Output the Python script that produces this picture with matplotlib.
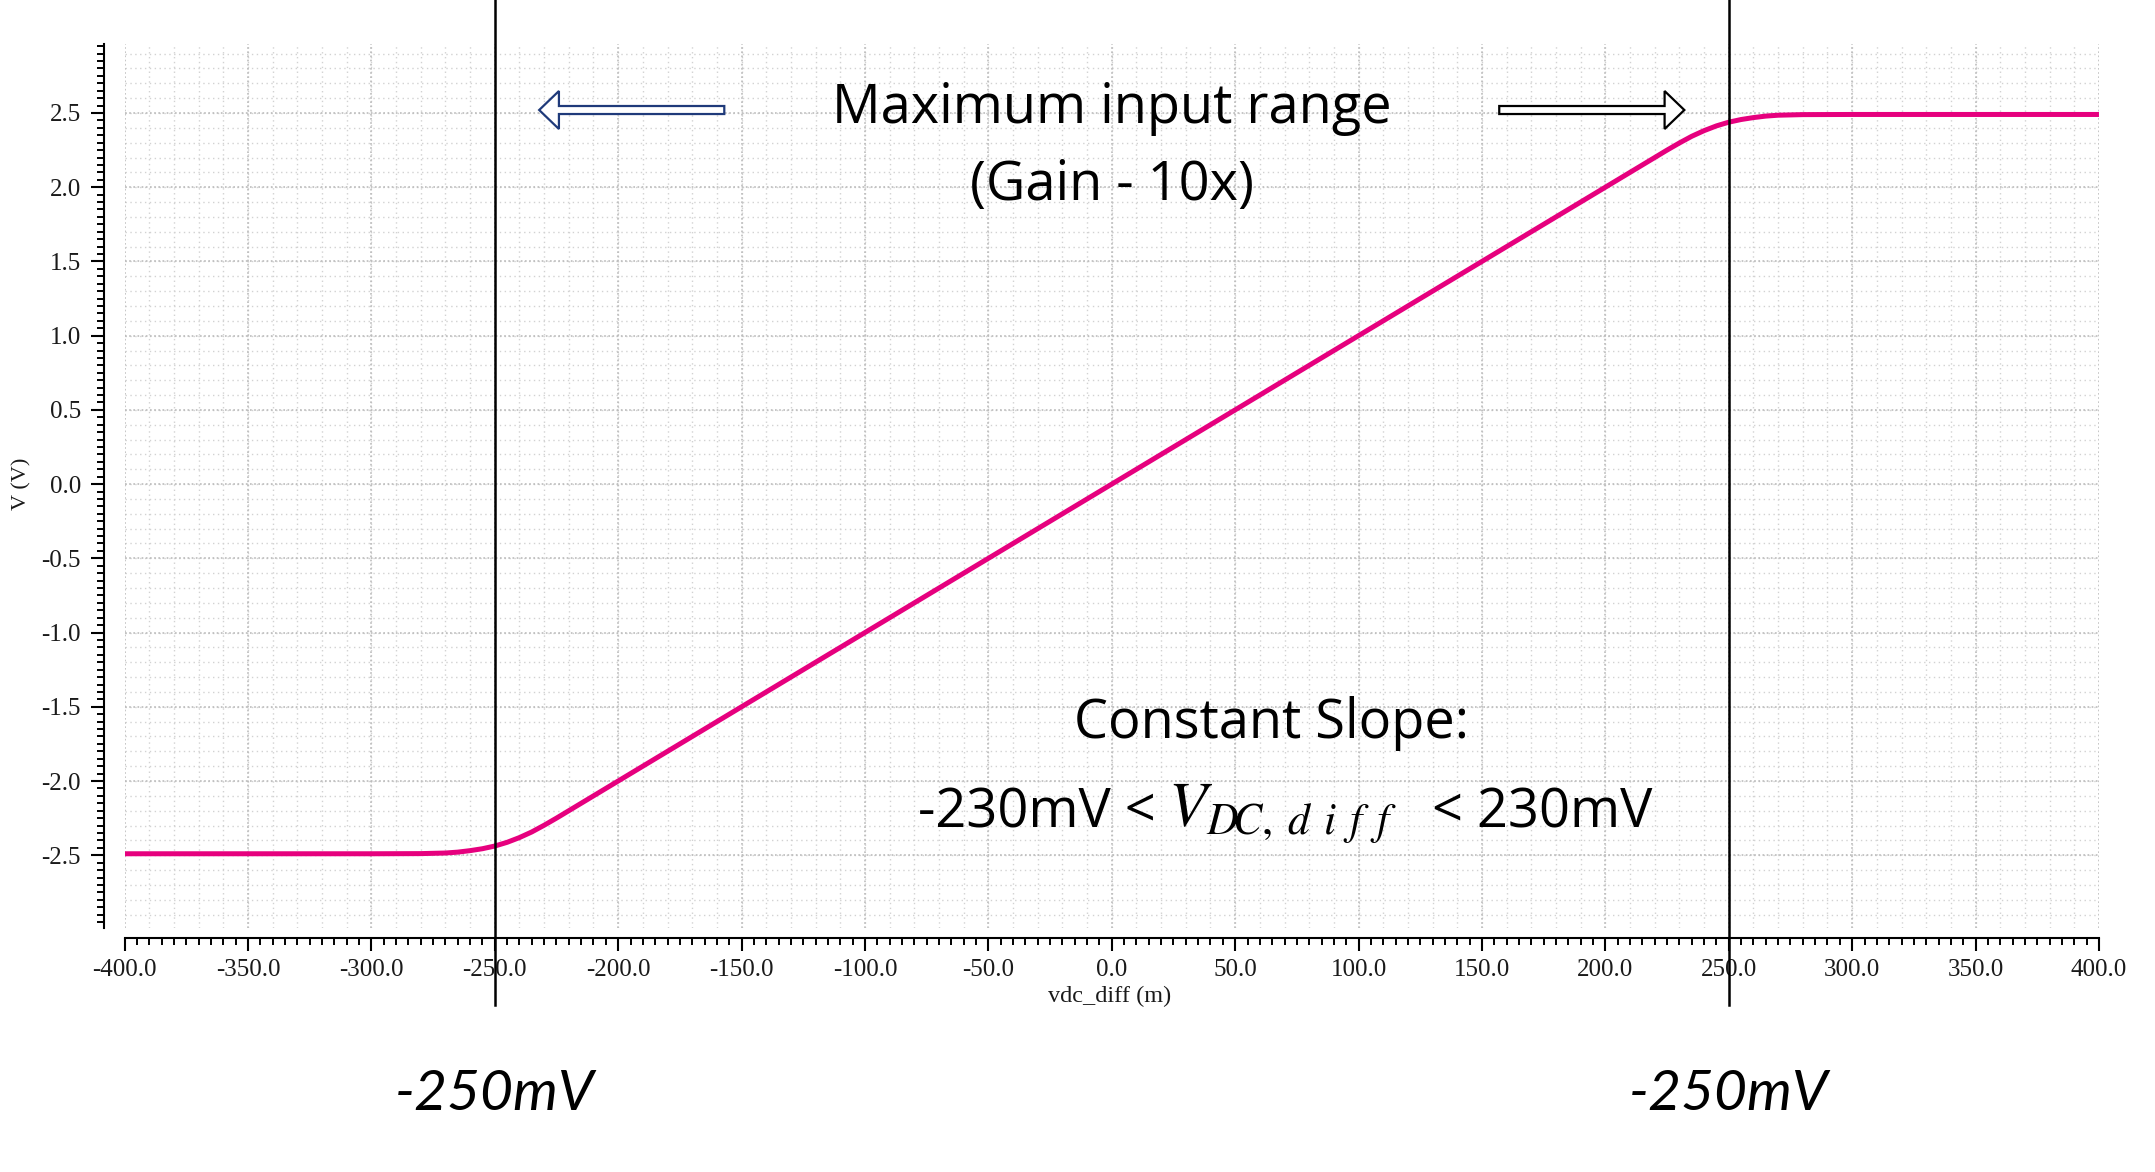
import numpy as np
import matplotlib.pyplot as plt
import matplotlib.patches as mpatches
import matplotlib.transforms as mtransforms
from matplotlib.ticker import MultipleLocator, FormatStrFormatter

plt.rcParams['axes.unicode_minus'] = False

# DC sweep of the differential input (mV) and the output voltage (V)
vdc_mv = [-400, -300, -280, -270, -265, -260, -255, -250, -245, -240, -235,
          -230, -225, -220, 220, 225, 230, 235, 240, 245, 250, 255, 260, 265,
          270, 280, 300, 400]
vout_v = [-2.490, -2.490, -2.489, -2.485, -2.479, -2.469, -2.456, -2.438,
          -2.413, -2.381, -2.343, -2.298, -2.250, -2.200, 2.200, 2.250, 2.298,
          2.343, 2.381, 2.413, 2.438, 2.456, 2.469, 2.479, 2.485, 2.489, 2.490,
          2.490]

limit_mv = [-250, 250]
limit_labels = ['-250mV', '-250mV']
x_ticks = [-400, -350, -300, -250, -200, -150, -100, -50, 0, 50, 100, 150,
           200, 250, 300, 350, 400]
y_ticks = [-2.5, -2.0, -1.5, -1.0, -0.5, 0.0, 0.5, 1.0, 1.5, 2.0, 2.5]

W, H = 2155, 1172
fig = plt.figure(figsize=(W / 100, H / 100), dpi=100)
ax = fig.add_axes([0.0578, 0.2082, 0.9162, 0.7543])

ymin, ymax = -2.99, 2.965
ax.set_xlim(-400, 400)
ax.set_ylim(ymin, ymax)

# dotted background grid
ax.vlines(np.arange(-390, 400, 10), ymin, ymax, colors='#d2d2d2', lw=1.0,
          linestyles=(0, (1, 2.5)), zorder=0)
ax.hlines(np.arange(-2.9, 2.95, 0.1), -400, 400, colors='#d2d2d2', lw=1.0,
          linestyles=(0, (1, 2.5)), zorder=0)
ax.vlines(x_ticks, ymin, ymax, colors='#bcbcbc', lw=1.2,
          linestyles=(0, (1, 1.5)), zorder=0)
ax.hlines(y_ticks, -400, 400, colors='#bcbcbc', lw=1.2,
          linestyles=(0, (1, 1.5)), zorder=0)

ax.plot(vdc_mv, vout_v, color='#e6007e', lw=3.6, solid_capstyle='butt',
        zorder=3)

for x in limit_mv:
    ax.axvline(x, ymin=-0.087, ymax=1.05, color='black', lw=1.8,
               clip_on=False, zorder=4)

# spines / ticks
for s in ['top', 'right']:
    ax.spines[s].set_visible(False)
ax.spines['left'].set_position(('outward', 15))
ax.spines['bottom'].set_position(('outward', 7.2))
ax.spines['left'].set_linewidth(1.5)
ax.spines['bottom'].set_linewidth(1.5)

ax.set_xticks(x_ticks)
ax.set_yticks(y_ticks)
ax.xaxis.set_minor_locator(MultipleLocator(5))
ax.yaxis.set_minor_locator(MultipleLocator(0.05))
ax.xaxis.set_major_formatter(FormatStrFormatter('%.1f'))
ax.yaxis.set_major_formatter(FormatStrFormatter('%.1f'))
ax.tick_params(which='major', length=9.4, width=1.5, direction='out')
ax.tick_params(which='minor', length=5, width=1.4, direction='out')
ax.tick_params(axis='x', which='major', pad=5.5)
ax.tick_params(axis='y', which='major', pad=7)
for lab in ax.get_xticklabels() + ax.get_yticklabels():
    lab.set_family('Liberation Serif')
    lab.set_fontsize(18)
    lab.set_color('#1a1a1a')

fig.text(0.0102, 1 - 484 / H, 'V (V)', rotation=90, ha='center',
         va='center', family='Liberation Serif', fontsize=16, color='#1a1a1a')
fig.text(1110 / W, 1 - 996 / H, 'vdc_diff (m)', ha='center', va='center',
         family='Liberation Serif', fontsize=17.5, color='#1a1a1a')

# annotations (baseline positions in pixels from the top)
big = dict(family='Open Sans', fontsize=39, color='black', va='baseline',
           zorder=5)
fig.text(1112 / W, 1 - 123 / H, 'Maximum input range', ha='center', **big)
fig.text(1112 / W, 1 - 200 / H, '(Gain - 10x)', ha='center', **big)
fig.text(1272 / W, 1 - 738 / H, 'Constant Slope:', ha='center', **big)
fig.text(1156 / W, 1 - 827 / H, '-230mV <', ha='right', **big)
fig.text(1168 / W, 1 - 827 / H, r'$V_{D\!C,\;d\;\,i\;\,f\;\,f}$',
         ha='left', va='baseline', fontsize=45, math_fontfamily='stix',
         zorder=5)
fig.text(1432 / W, 1 - 827 / H, '< 230mV', ha='left', **big)

ax.add_patch(mpatches.FancyArrow(-157, 2.52, -75, 0, width=0.054,
                                 head_width=0.256, head_length=8,
                                 length_includes_head=True, fc='white',
                                 ec='#1f3a7a', lw=1.6, zorder=5))
ax.add_patch(mpatches.FancyArrow(157, 2.52, 75, 0, width=0.054,
                                 head_width=0.256, head_length=8,
                                 length_includes_head=True, fc='white',
                                 ec='black', lw=1.6, zorder=5))

trans = mtransforms.blended_transform_factory(ax.transData, fig.transFigure)
for x, lbl in zip(limit_mv, limit_labels):
    ax.text(x, 1 - 1110 / H, lbl, family='Lato', style='italic',
            fontsize=41, ha='center', va='baseline', transform=trans,
            clip_on=False)

fig.savefig('out.png', dpi=100, facecolor='white')
